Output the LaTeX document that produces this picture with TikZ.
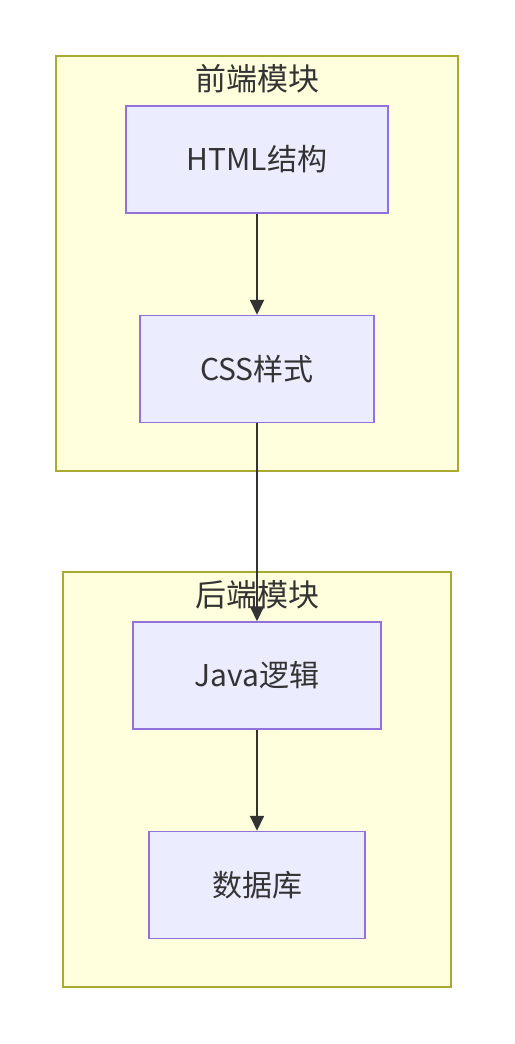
\documentclass[tikz,border=0pt]{standalone}
\usepackage{fontspec}
\setmainfont{Noto Sans CJK SC}
\usetikzlibrary{positioning,arrows.meta}
\definecolor{groupfill}{HTML}{FFFFDE}
\definecolor{groupline}{HTML}{AAAA33}
\definecolor{boxfill}{HTML}{ECECFF}
\definecolor{boxline}{HTML}{9370DB}
\definecolor{ink}{HTML}{333333}
\begin{document}
\begin{tikzpicture}[x=1pt,y=-1pt,
  font=\fontsize{30}{36}\selectfont,
  text=ink,
  group/.style={draw=groupline,fill=groupfill,line width=1.5pt,minimum height=415pt},
  box/.style={draw=boxline,fill=boxfill,line width=1.5pt,minimum height=107pt},
  flow/.style={draw=ink,line width=2pt,-{Triangle[length=15pt,width=14pt]}}
  ]
  \useasboundingbox (0,0) rectangle (514,1044);
  \node[group,minimum width=402pt] (frontend) at (257,263.5) {};
  \node[font=\fontsize{31}{36}\selectfont] (frontendlabel) at ([yshift=-23pt]frontend.north) {前端模块};
  \node[group,minimum width=388pt] (backend) at (257,779.5) {};
  \node[font=\fontsize{31}{36}\selectfont] (backendlabel) at ([yshift=-23pt]backend.north) {后端模块};

  \node[box,minimum width=262pt] (html) at (257,159.5) {HTML结构};
  \node[box,minimum width=234pt,below=101pt of html] (css) {CSS样式};
  \node[box,minimum width=248pt] (java) at (257,675.5) {Java逻辑};
  \node[box,minimum width=216pt,below=101pt of java] (db) {数据库};

  \draw[flow] (html) -- (css);
  \draw[flow] (css) -- (java);
  \draw[flow] (java) -- (db);
\end{tikzpicture}
\end{document}
